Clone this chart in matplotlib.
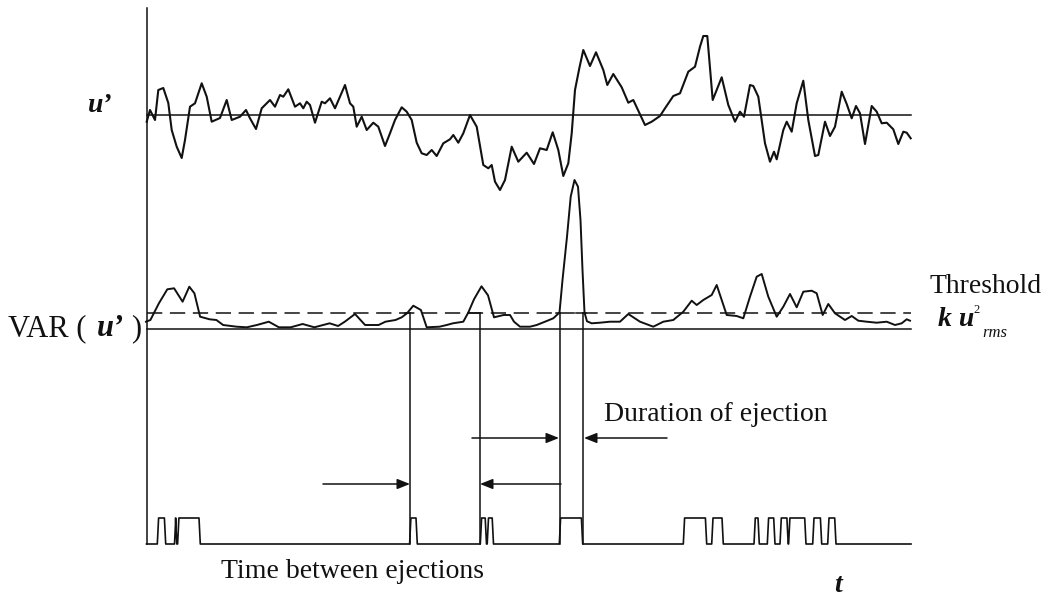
import matplotlib
matplotlib.use("Agg")
import matplotlib.pyplot as plt

# fluctuating velocity u' (deviation from its mean line)
u_t = [146.7, 150, 155, 158.3, 163.3, 168.3, 171.7, 176.7, 181.7, 185, 190, 195, 201.7, 206.7,
       211.7, 220, 226.7, 231.7, 240, 246, 250, 256, 261.7, 270, 275, 280, 283.3, 288.3, 295,
       300, 303.3, 306.7, 310, 315, 321.7, 325, 330, 335, 340, 345, 350, 353.3, 356.7, 361.7,
       366.7, 373.3, 378.3, 385, 390, 395, 401.7, 406.7, 411.7, 416.7, 421.7, 426.7, 431.7,
       436.7, 443.3, 450, 453.3, 458.3, 463.3, 470, 476.7, 483.3, 488.3, 491.7, 495, 500, 505,
       511.7, 518.3, 526.7, 534, 540, 546.7, 552.7, 558.3, 563.3, 568.3, 571.7, 575, 579.3,
       583.3, 590, 596, 603.3, 607.3, 613.3, 621.7, 628.3, 633.3, 645, 651.7, 660, 665, 673.3,
       680, 688.3, 695, 700, 703.3, 707.3, 712.7, 721.7, 728.3, 735, 740, 744, 750, 753.3,
       758.3, 765, 770, 774, 776.7, 783.3, 786.7, 791.7, 796.7, 803.3, 808.3, 815, 818.3, 825,
       830, 835, 841.7, 846.7, 851.7, 856, 860, 865, 871.7, 876.7, 881.7, 886.7, 893.3, 898.3,
       903.3, 906.7, 910.7]
u_val = [-6.7, 5, -5, 25, 27, 12, -15, -31.7, -43, -25, 8.3, 11.7, 31.7, 18.3,
         -6.7, -3, 15, -5, -1.7, 5, -3.3, -14, 6.7, 15, 8.3, 20, 18.3, 25.7, 8.3,
         11.7, 6.7, 13.3, 10, -7.7, 13.3, 11.7, 16.7, 6.7, 18.3, 30, 11.7, 8.3, -11.7, -1.7,
         -15, -7.7, -11.7, -31, -18.3, -5, 7.7, 3.3, -5, -27.7, -38.3, -40, -35,
         -41, -28.3, -24.3, -20, -27.7, -18.3, 0, -11.7, -50, -53.3, -50, -66.7, -75, -65,
         -31.7, -46.7, -37.7, -49, -33.3, -35, -17.3, -35, -61, -48.3, -18.3, 25, 46.7,
         65, 49, 62.7, 45, 30, 41, 27.7, 12.3, 15, -10, -6.7, -1, 6.7, 19,
         21.7, 43.3, 48.3, 68.3, 79, 79, 15, 37.7, 10, -6.7, 3.3, -1.7, 30, 29,
         18.3, -28.3, -46.7, -36.7, -44.3, -15, -6.7, -16.7, 11.7, 34.3, -5, -41, -40, -6.7,
         -21, -11.7, 23.3, 11, -3.3, 9, 1.7, -29, 9, 3.3, -8.3, -7.7, -14.3, -29,
         -16.7, -17.7, -23.3]

# short-time variance VAR(u')
v_t = [146.0, 150.4, 158.9, 167.3, 174.1, 182.6, 189.3, 194.4, 200.1, 209.6, 216.4, 223.1,
       236.6, 246.8, 256.9, 268.8, 278.9, 290.7, 302.6, 314.4, 329.6, 338.1, 344.8, 355.0,
       365.1, 378.6, 385.4, 395.5, 401.7, 407, 413.3, 420.9, 426.7, 439.5, 446.7, 453.0, 463.3,
       468.3, 474, 481.5, 488, 494, 503.7, 510, 514, 520, 530, 536.7, 545, 553.3, 559.5, 562.5,
       567, 570.7, 574.5, 578, 580.5, 582.5, 584.5, 587, 591.7, 600, 610, 620, 628.3, 640,
       653.3, 663.3, 673.3, 683.3, 691.7, 696.7, 703.3, 711.7, 716.7, 721.7, 726.7, 736.7,
       743.3, 750, 756.7, 761.7, 768.3, 776.7, 783.3, 790, 796.7, 803.3, 811.7, 816.7, 822.7,
       828.3, 835, 845, 851.7, 858.3, 866.7, 876.7, 886.7, 895, 901.7, 906.7, 910]
v_val = [7.6, 9.3, 26, 40, 41, 27.6, 42.6, 36, 12.6, 10, 9.3, 4.3,
         2.6, 2, 4.3, 7.6, 2, 2, 5.3, 2, 6, 3.3, 7.6, 15.3,
         4.3, 4.3, 7.6, 9.3, 12, 16, 23.6, 19.3, 2, 2.6, 4.3, 6, 7.6,
         16.8, 30, 43, 34, 12, 14.3, 14.3, 7.6, 2.6, 2.6, 4.3, 7.6, 11, 16.8, 49.3,
         92.6, 132.6, 149.3, 142.6, 109.3, 59.3, 16.8, 8, 6, 6.6, 7.6, 7.6, 15.3, 7.6,
         2.6, 7.6, 9.3, 17.6, 28.6, 24.3, 29.3, 34.3, 44.3, 29.3, 14.3, 13.3,
         11, 32.6, 52.6, 55.3, 32.6, 12.6, 22.6, 35.3, 22, 37.6, 38.6, 36, 14.3,
         25.3, 16, 9.3, 13.3, 8.6, 7.6, 6.6, 7.6, 4.3, 6, 10, 8.6]
threshold = 16.8

# detector output: (on, off) times of each pulse
pulses = [(157.3, 165.7), (174.5, 176.8), (177.6, 200.3), (409.6, 417.3), (480.3, 486.5),
          (487.2, 493.5), (559.3, 582.7), (683.3, 706.7), (711.7, 723.3), (754, 759.3),
          (767.3, 775), (780, 788.2), (788.6, 806), (812.7, 821.7), (827.7, 836)]

# ejection start / end marks and where VAR crossed the threshold
eject_t = [410, 480, 560, 583]
cross_segs = [(405, 410), (468, 480), (556, 560), (576, 586)]

# layout (figure pixels)
T0, T1 = 146.5, 911
U_BASE = 115
V_BASE = 329.3
P_BASE = 544
P_HIGH = 26
RAMP = 1.3
INK = "#111111"
SERIF = "Liberation Serif"

fig = plt.figure(figsize=(10.49, 5.99), dpi=100)
ax = fig.add_axes([0, 0, 1, 1])
ax.set_xlim(0, 1049)
ax.set_ylim(599, 0)
ax.axis("off")

# vertical axis
ax.plot([T0, T0], [8, P_BASE], color=INK, lw=1.1)

# u' trace and its mean
ax.plot([T0, T1], [U_BASE, U_BASE], color=INK, lw=1.1)
ax.plot(u_t, [U_BASE - v for v in u_val], color=INK, lw=1.5, solid_joinstyle="round")

# VAR(u') trace, zero line and threshold
ax.plot([T0, T1], [V_BASE, V_BASE], color=INK, lw=1.1)
ax.plot([T0, T1], [V_BASE - threshold] * 2, color=INK, lw=1.1, linestyle=(0, (10, 5)))
ax.plot(v_t, [V_BASE - v for v in v_val], color=INK, lw=1.4, solid_joinstyle="round")
for a, b in cross_segs:
    ax.plot([a, b], [V_BASE - threshold] * 2, color=INK, lw=1.1)

# pulse train
px, py = [T0], [P_BASE]
for on, off in pulses:
    px += [on, on + RAMP, off - RAMP, off]
    py += [P_BASE, P_BASE - P_HIGH, P_BASE - P_HIGH, P_BASE]
px.append(T1)
py.append(P_BASE)
ax.plot(px, py, color=INK, lw=1.2)

# ejection marks carried down from the threshold
for t in eject_t:
    ax.plot([t, t], [V_BASE - threshold, P_BASE], color=INK, lw=1.1)

# arrows
arrow = dict(arrowstyle="-|>,head_length=0.55,head_width=0.22", color=INK, lw=1.1,
             mutation_scale=14, shrinkA=0, shrinkB=0)
for tail, head, y in [(323, eject_t[0], 484), (561, eject_t[1], 484),
                      (472, eject_t[2] - 1, 438), (667, eject_t[3] + 1, 438)]:
    ax.annotate("", xy=(head, y), xytext=(tail, y), arrowprops=arrow)

# labels
ax.text(88, 112, "u\u2019", family=SERIF, fontsize=20, style="italic", weight="bold",
        va="baseline", color=INK)
ax.text(8, 336, "VAR (", family=SERIF, fontsize=22, va="baseline", color=INK)
ax.text(97, 336, "u\u2019", family=SERIF, fontsize=22, style="italic", weight="bold",
        va="baseline", color=INK)
ax.text(131, 336, ")", family=SERIF, fontsize=22, va="baseline", color=INK)
ax.text(929, 293, "Threshold", family=SERIF, fontsize=20, va="baseline", color=INK)
ax.text(938, 326, "k u", family=SERIF, fontsize=20, style="italic", weight="bold",
        va="baseline", color=INK)
ax.text(973, 313, "2", family=SERIF, fontsize=9, va="baseline", color=INK)
ax.text(982, 337, "rms", family=SERIF, fontsize=12, style="italic", va="baseline", color=INK)
ax.text(604, 421, "Duration of ejection", family=SERIF, fontsize=20, va="baseline", color=INK)
ax.text(221, 578, "Time between ejections", family=SERIF, fontsize=20, va="baseline",
        color=INK)
ax.text(834, 592, "t", family=SERIF, fontsize=20, style="italic", weight="bold",
        va="baseline", color=INK)

fig.savefig("out.png", dpi=100, facecolor="white")
